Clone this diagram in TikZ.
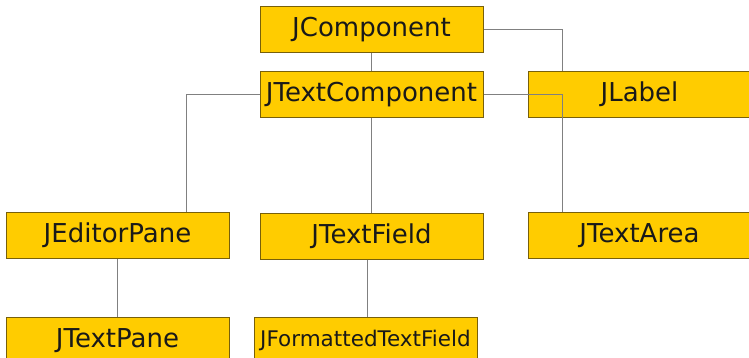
\documentclass[tikz,border=0pt]{standalone}
\usepackage{fontspec}
\setmainfont{DejaVu Sans}
\definecolor{boxfill}{RGB}{255,204,0}
\definecolor{boxline}{RGB}{120,96,10}
\definecolor{wire}{RGB}{128,128,128}

\begin{document}
\begin{tikzpicture}[x=1pt, y=-1pt,
    cls/.style={rectangle, draw=boxline, fill=boxfill, line width=1pt, inner sep=0pt,
                minimum width=223pt, minimum height=46pt, text=black!90,
                font=\fontsize{26}{30}\selectfont},
    link/.style={draw=wire, line width=1pt}]
                    \useasboundingbox (0,0) rectangle (749,358);

                    \node (JComponent) [cls] at (371.5, 29.5) {JComponent};
                    \node (JTextComponent) [cls] at (371.5, 94.5) {JTextComponent};
                    \node (JLabel) [cls] at (639.5, 94.5) {JLabel};

                    \node (JEditorPane) [cls] at (117.5, 235.5) {JEditorPane};
                    \node (JTextField) [cls] at (371.5, 236) {JTextField};
                    \node (JTextArea) [cls] at (639.5, 235.5) {JTextArea};

                    \node (JTextPane) [cls] at (117.5, 340.5) {JTextPane};
                    \node (JFormattedTextField) [cls, font=\fontsize{21.5}{26}\selectfont] at (365.5, 340.5) {JFormattedTextField};

                    \draw[link] (JComponent) -- (JTextComponent);
                    \draw[link] (JComponent.east) -| ([xshift=35]JLabel.north west);
                    \draw[link] (JTextComponent.east) -| ([xshift=35]JTextArea.north west);
                    \draw[link] (JTextComponent.west) -| ([xshift=181]JEditorPane.north west);
                    \draw[link] (JTextComponent) -- (JTextField);
                    \draw[link] (JEditorPane) -- (JTextPane);
                    \draw[link] ([xshift=-4]JTextField.south) -- ([xshift=-4]JTextField.south |- JFormattedTextField.north);
                \end{tikzpicture}
\end{document}
